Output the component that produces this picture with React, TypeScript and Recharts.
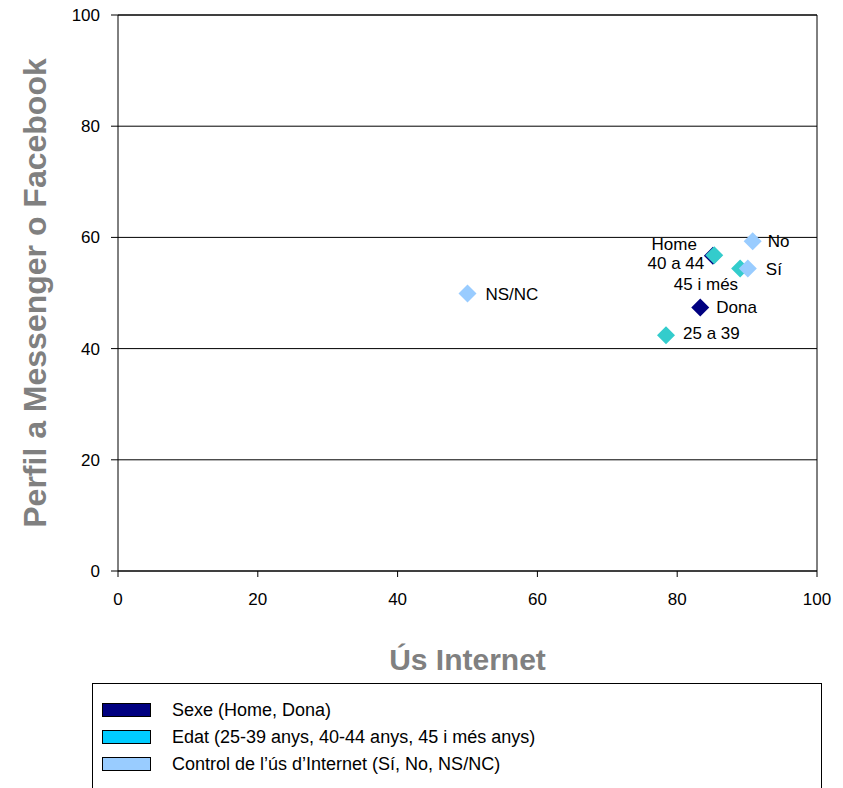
import React from 'react';
import {
  ScatterChart,
  Scatter,
  XAxis,
  YAxis,
  CartesianGrid,
  ReferenceLine,
  Legend,
} from 'recharts';

// ---- Data ----
const sexeNames = ['Home', 'Dona'];
const sexeX = [85.1, 83.3];
const sexeY = [56.7, 47.4];

const edatNames = ['25 a 39', '40 a 44', '45 i més'];
const edatX = [78.4, 85.3, 89.0];
const edatY = [42.4, 56.8, 54.4];

const controlNames = ['Sí', 'No', 'NS/NC'];
const controlX = [90.1, 90.8, 50.0];
const controlY = [54.4, 59.3, 49.9];

const xTicks = [0, 20, 40, 60, 80, 100];
const yTicks = [0, 20, 40, 60, 80, 100];

const legendLabels = [
  'Sexe (Home, Dona)',
  'Edat (25-39 anys, 40-44 anys, 45 i més anys)',
  'Control de l\u2019ús d\u2019Internet (Sí, No, NS/NC)',
];

const xTitle = 'Ús Internet';
const yTitle = 'Perfil a Messenger o Facebook';

// ---- Styles ----
const FONT = '"Liberation Sans", Arial, sans-serif';
const pointColors = ['#000080', '#33CCCC', '#99CCFF'];
const legendColors = ['#000080', '#00CCFF', '#99CCFF'];
const TITLE_GRAY = '#808080';

const labelPlacement: Record<string, { anchor: 'start' | 'end'; dx: number; dy: number }> = {
  Home: { anchor: 'end', dx: -16, dy: -12 },
  Dona: { anchor: 'start', dx: 16, dy: 0 },
  '25 a 39': { anchor: 'start', dx: 17, dy: -2 },
  '40 a 44': { anchor: 'end', dx: -10, dy: 8 },
  '45 i més': { anchor: 'end', dx: -2, dy: 15 },
  'Sí': { anchor: 'start', dx: 18, dy: 0 },
  No: { anchor: 'start', dx: 15, dy: 0 },
  'NS/NC': { anchor: 'start', dx: 18, dy: 0 },
};

const build = (names: string[], xs: number[], ys: number[]) =>
  names.map((name, i) => ({ name, x: xs[i], y: ys[i] }));

const sexeData = build(sexeNames, sexeX, sexeY);
const edatData = build(edatNames, edatX, edatY);
const controlData = build(controlNames, controlX, controlY);

const makeShape = (color: string) => (props: any) => {
  const { cx, cy, payload } = props;
  if (cx == null || cy == null) return <g />;
  const r = 9;
  const p = labelPlacement[payload.name] || { anchor: 'start', dx: 16, dy: 0 };
  return (
    <g>
      <polygon
        points={`${cx},${cy - r} ${cx + r},${cy} ${cx},${cy + r} ${cx - r},${cy}`}
        fill={color}
      />
      <text
        x={cx + p.dx}
        y={cy + p.dy + 6}
        textAnchor={p.anchor}
        fontFamily={FONT}
        fontSize={17}
        fill="#000"
      >
        {payload.name}
      </text>
    </g>
  );
};

const LegendBox = () => (
  <div
    style={{
      position: 'absolute',
      left: 92,
      top: 683,
      width: 730,
      height: 140,
      borderLeft: '1.5px solid #000',
      borderTop: '1.5px solid #000',
      borderRight: '1.5px solid #000',
      boxSizing: 'border-box',
      fontFamily: FONT,
      fontSize: 18,
      color: '#000',
    }}
  >
    {legendLabels.map((lab, i) => (
      <div
        key={lab}
        style={{
          position: 'absolute',
          left: 0,
          top: 16 + i * 27,
          height: 20,
          display: 'flex',
          alignItems: 'center',
          whiteSpace: 'nowrap',
        }}
      >
        <div
          style={{
            marginLeft: 9,
            width: 49,
            height: 14,
            background: legendColors[i],
            border: '1.5px solid #000',
            boxSizing: 'border-box',
          }}
        />
        <span style={{ marginLeft: 21, lineHeight: '20px' }}>{lab}</span>
      </div>
    ))}
  </div>
);

export default function App() {
  return (
    <div
      style={{
        position: 'absolute',
        left: 0,
        top: 0,
        width: 843,
        height: 788,
        overflow: 'hidden',
        background: '#fff',
        fontFamily: FONT,
      }}
    >
      <ScatterChart
        width={843}
        height={788}
        margin={{ top: 15, right: 26, left: 18, bottom: 177 }}
      >
        <CartesianGrid vertical={false} stroke="#000" strokeWidth={1} strokeDasharray="" />
        <XAxis
          type="number"
          dataKey="x"
          domain={[0, 100]}
          ticks={xTicks}
          height={40}
          tickSize={6}
          tickMargin={16}
          axisLine={{ stroke: '#000' }}
          tickLine={{ stroke: '#000' }}
          tick={{ fill: '#000', fontSize: 17, fontFamily: FONT }}
          allowDataOverflow
          label={(props: any) => {
            const vb = props.viewBox || { x: 118, y: 571, width: 699, height: 40 };
            return (
              <text
                x={vb.x + vb.width / 2}
                y={670}
                textAnchor="middle"
                fontFamily={FONT}
                fontWeight="bold"
                fontSize={30}
                fill={TITLE_GRAY}
              >
                {xTitle}
              </text>
            );
          }}
        />
        <YAxis
          type="number"
          dataKey="y"
          domain={[0, 100]}
          ticks={yTicks}
          width={100}
          tickSize={7}
          tickMargin={11}
          axisLine={{ stroke: '#000' }}
          tickLine={{ stroke: '#000' }}
          tick={{ fill: '#000', fontSize: 17, fontFamily: FONT }}
          allowDataOverflow
          label={(props: any) => {
            const vb = props.viewBox || { x: 18, y: 15, width: 100, height: 556 };
            const cy = vb.y + vb.height / 2;
            const bx = 46;
            return (
              <text
                x={bx}
                y={cy}
                transform={`rotate(-90, ${bx}, ${cy})`}
                textAnchor="middle"
                fontFamily={FONT}
                fontWeight="bold"
                fontSize={32}
                fill={TITLE_GRAY}
              >
                {yTitle}
              </text>
            );
          }}
        />
        <ReferenceLine x={100} stroke="#000" strokeWidth={1} />
        <ReferenceLine y={100} stroke="#000" strokeWidth={1} />
        <Scatter
          name={legendLabels[0]}
          data={sexeData}
          fill={pointColors[0]}
          shape={makeShape(pointColors[0])}
          isAnimationActive={false}
        />
        <Scatter
          name={legendLabels[1]}
          data={edatData}
          fill={pointColors[1]}
          shape={makeShape(pointColors[1])}
          isAnimationActive={false}
        />
        <Scatter
          name={legendLabels[2]}
          data={controlData}
          fill={pointColors[2]}
          shape={makeShape(pointColors[2])}
          isAnimationActive={false}
        />
        <Legend
          content={() => <LegendBox />}
          wrapperStyle={{ position: 'absolute', left: 0, top: 0, width: 0, height: 0 }}
        />
      </ScatterChart>
    </div>
  );
}
